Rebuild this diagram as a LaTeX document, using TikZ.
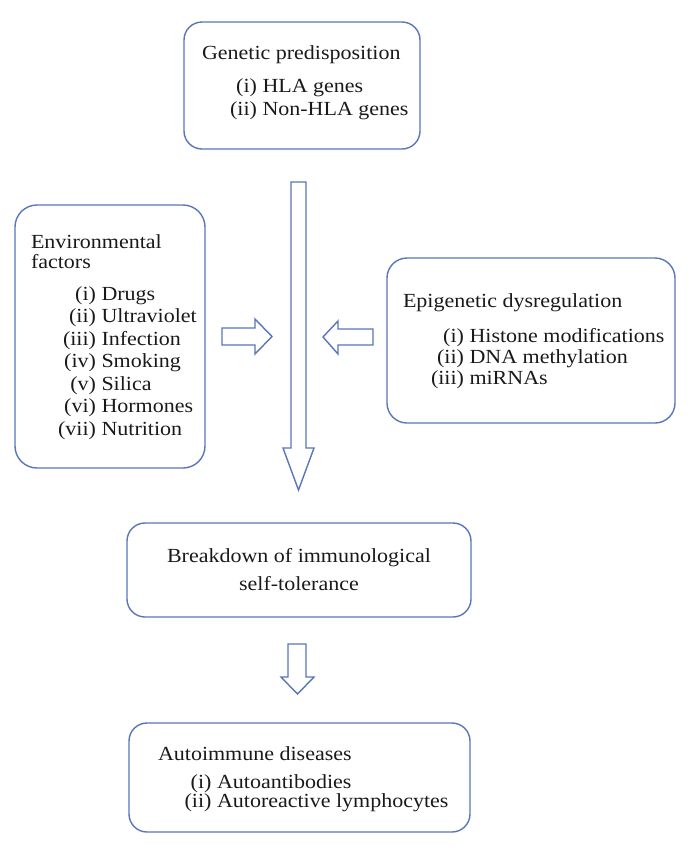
\documentclass[tikz,border=0pt]{standalone}
\usepackage{fontspec}
\setmainfont{Liberation Serif}[FakeStretch=1.1]
\definecolor{bl}{RGB}{88,118,184}
\begin{document}
\begin{tikzpicture}[x=1pt,y=-1pt,
  box/.style={draw=bl, line width=1.4pt, rounded corners=18pt, inner sep=0pt, outer sep=0pt},
  txt/.style={font=\fontsize{20}{24}\selectfont, inner sep=0pt, outer sep=0pt, text=black!90},
  lab/.style={txt, anchor=base east},
  itm/.style={txt, anchor=base west},
  ctr/.style={txt, anchor=base},
  barrow/.style={draw=bl, line width=1.4pt, line join=miter, fill=white}]
\useasboundingbox (0,0) rectangle (689,852);
% boxes
\node[box, minimum width=236pt, minimum height=127pt] (gen) at (302,85.5) {};
\node[box, rounded corners=22pt, minimum width=190pt, minimum height=263pt] (env) at (110,336.5) {};
\node[box, rounded corners=20pt, minimum width=288pt, minimum height=165pt] (epi) at (531,340.5) {};
\node[box, minimum width=344pt, minimum height=94pt] (brk) at (299,570) {};
\node[box, minimum width=341pt, minimum height=109pt] (aut) at (299.5,777.5) {};
% genetic
\node[itm] (g0) at (202,59) {Genetic predisposition};
\node[lab] (g1l) at (257,92) {(i)};
\node[itm] (g1) at (262.5,92) {HLA genes};
\node[lab] (g2l) at (257,115) {(ii)};
\node[itm] (g2) at (262.5,115) {Non-HLA genes};
% environmental
\node[itm] (e0) at (31,248) {Environmental};
\node[itm] (e0b) at (31,268) {factors};
\node[lab] (e1l) at (96,300) {(i)};
\node[itm] (e1) at (101.5,300) {Drugs};
\node[lab] (e2l) at (96,322.5) {(ii)};
\node[itm] (e2) at (101.5,322.5) {Ultraviolet};
\node[lab] (e3l) at (96,345) {(iii)};
\node[itm] (e3) at (101.5,345) {Infection};
\node[lab] (e4l) at (96,367.5) {(iv)};
\node[itm] (e4) at (101.5,367.5) {Smoking};
\node[lab] (e5l) at (96,390) {(v)};
\node[itm] (e5) at (101.5,390) {Silica};
\node[lab] (e6l) at (96,412.5) {(vi)};
\node[itm] (e6) at (101.5,412.5) {Hormones};
\node[lab] (e7l) at (96,435) {(vii)};
\node[itm] (e7) at (101.5,435) {Nutrition};
% epigenetic
\node[itm] (p0) at (403,307) {Epigenetic dysregulation};
\node[lab] (p1l) at (464,342) {(i)};
\node[itm] (p1) at (469.5,342) {Histone modifications};
\node[lab] (p2l) at (464,363) {(ii)};
\node[itm] (p2) at (469.5,363) {DNA methylation};
\node[lab] (p3l) at (464,384) {(iii)};
\node[itm] (p3) at (469.5,384) {miRNAs};
% breakdown
\node[ctr] (b1) at (299,562) {Breakdown of immunological};
\node[ctr] (b2) at (299,590) {self-tolerance};
% autoimmune
\node[itm] (a0) at (158,760) {Autoimmune diseases};
\node[lab] (a1l) at (211.5,788) {(i)};
\node[itm] (a1) at (217,788) {Autoantibodies};
\node[lab] (a2l) at (211.5,807) {(ii)};
\node[itm] (a2) at (217,807) {Autoreactive lymphocytes};
% block arrows
\draw[barrow] (291,182) -- (306,182) -- (306,448) -- (314,448) -- (298.5,490) -- (283,448) -- (291,448) -- cycle;
\draw[barrow] (222,328) -- (255,328) -- (255,319) -- (272,336.5) -- (255,354) -- (255,345) -- (222,345) -- cycle;
\draw[barrow] (373,329) -- (338,329) -- (338,321) -- (323,337) -- (338,354) -- (338,345) -- (373,345) -- cycle;
\draw[barrow] (288,644) -- (306,644) -- (306,677) -- (314,677) -- (297.5,694) -- (281,677) -- (288,677) -- cycle;
\end{tikzpicture}
\end{document}
